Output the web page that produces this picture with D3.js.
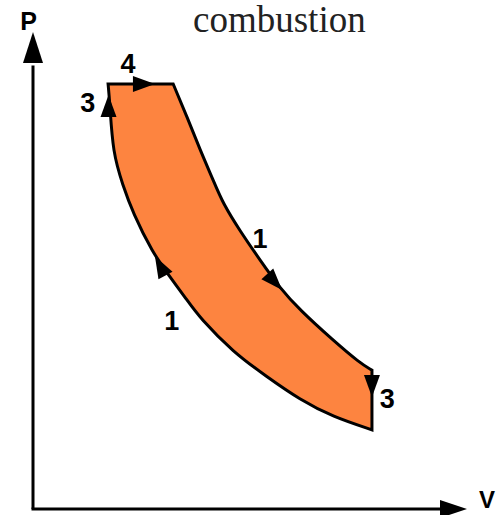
<!DOCTYPE html>
<html><head><meta charset="utf-8">
<script src="https://cdn.jsdelivr.net/npm/d3@7"></script>
<style>html,body{margin:0;padding:0;background:#fff;} svg{display:block}</style>
</head><body>
<svg id="chart" width="504" height="515"></svg>
<script>
// ---- data (V, P in arbitrary units) ----
const combustionV = [17.3, 32.3];
const combustionP = [89.1, 89.1];
const expansionV = [32.3, 35.5, 38.5, 41.5, 43.8, 47.7, 52.3, 56.9, 61.5, 69.1, 75.3, 78.1];
const expansionP = [89.1, 82.2, 75.3, 69.0, 64.0, 58.3, 52.2, 46.3, 41.7, 35.4, 30.6, 29.1];
const exhaustV = [78.1, 78.1];
const exhaustP = [29.1, 16.6];
const compressionV = [78.1, 69.1, 61.5, 53.9, 46.1, 38.5, 35.5, 30.9, 27.6, 23.0, 20.7, 18.4, 17.7, 17.3];
const compressionP = [16.6, 19.3, 22.9, 27.7, 32.9, 40.0, 43.8, 49.5, 53.7, 62.1, 67.9, 74.6, 85.1, 89.1];

// arrows: tip position and direction
const arrowV = [17.4, 28.1, 57.4, 28.1, 78.1];
const arrowP = [86.8, 89.1, 45.9, 53.0, 23.5];
const arrowDV = [0, 1, 1, -0.6, 0];
const arrowDP = [1, 0, -1, 1, -1];

// point labels
const labelText = ["4", "3", "1", "1", "3"];
const labelV = [21.9, 12.6, 52.3, 32.0, 81.6];
const labelP = [91.4, 83.2, 54.7, 37.5, 21.2];

const axisLabels = ["P", "V"];
const title = "combustion";

// ---- scales ----
const svg = d3.select("#chart");
const x = d3.scaleLinear().domain([0, 100]).range([33, 467]);
const y = d3.scaleLinear().domain([0, 100]).range([509, 32]);

const zip = (a, b) => a.map((v, i) => [v, b[i]]);
const lin = d3.line().x(d => x(d[0])).y(d => y(d[1]));
const smooth = d3.line().x(d => x(d[0])).y(d => y(d[1])).curve(d3.curveBasis);

const segs = [
  lin(zip(combustionV, combustionP)),
  smooth(zip(expansionV, expansionP)),
  lin(zip(exhaustV, exhaustP)),
  smooth(zip(compressionV, compressionP))
];
const pathD = segs.map((s, i) => i === 0 ? s : s.replace(/^M/, "L")).join("") + "Z";

svg.append("path")
  .attr("d", pathD)
  .attr("fill", "#fd8440")
  .attr("stroke", "#000")
  .attr("stroke-width", 3)
  .attr("stroke-linejoin", "miter");

// ---- axes ----
svg.append("line").attr("x1", x(0)).attr("y1", y(0)).attr("x2", x(0)).attr("y2", y(93))
  .attr("stroke", "#000").attr("stroke-width", 3);
svg.append("line").attr("x1", x(0) - 1.5).attr("y1", y(0)).attr("x2", x(95)).attr("y2", y(0))
  .attr("stroke", "#000").attr("stroke-width", 3);

function head(tx, ty, ux, uy, len, hw) {
  const bx = tx - ux * len, by = ty - uy * len;
  const px = -uy, py = ux;
  return `M${tx},${ty}L${bx + px * hw},${by + py * hw}L${bx - px * hw},${by - py * hw}Z`;
}
svg.append("path").attr("d", head(x(0), y(100), 0, -1, 31, 10)).attr("fill", "#000");
svg.append("path").attr("d", head(x(100), y(0), 1, 0, 27, 9)).attr("fill", "#000");

// ---- cycle arrows ----
arrowV.forEach((v, i) => {
  const tx = x(v), ty = y(arrowP[i]);
  const ex = x(v + arrowDV[i]) - tx, ey = y(arrowP[i] + arrowDP[i]) - ty;
  const n = Math.hypot(ex, ey);
  svg.append("path").attr("d", head(tx, ty, ex / n, ey / n, 22, 8)).attr("fill", "#000");
});

// ---- labels ----
svg.selectAll("text.lbl").data(labelText).enter().append("text")
  .attr("class", "lbl")
  .attr("x", (d, i) => x(labelV[i]))
  .attr("y", (d, i) => y(labelP[i]))
  .attr("text-anchor", "middle")
  .attr("font-family", "Liberation Sans, Arial, sans-serif")
  .attr("font-weight", "bold")
  .attr("font-size", 27)
  .attr("fill", "#000")
  .text(d => d);

svg.append("text").attr("x", 28.5).attr("y", 30).attr("text-anchor", "middle")
  .attr("font-family", "Liberation Sans, Arial, sans-serif").attr("font-weight", "bold")
  .attr("font-size", 25).text(axisLabels[0]);
svg.append("text").attr("x", 487).attr("y", 508).attr("text-anchor", "middle")
  .attr("font-family", "Liberation Sans, Arial, sans-serif").attr("font-weight", "bold")
  .attr("font-size", 24).text(axisLabels[1]);

svg.append("text").attr("x", 193).attr("y", 32)
  .attr("font-family", "Liberation Serif, Times New Roman, serif")
  .attr("font-size", 37).attr("fill", "#222").text(title);
</script>
</body></html>
